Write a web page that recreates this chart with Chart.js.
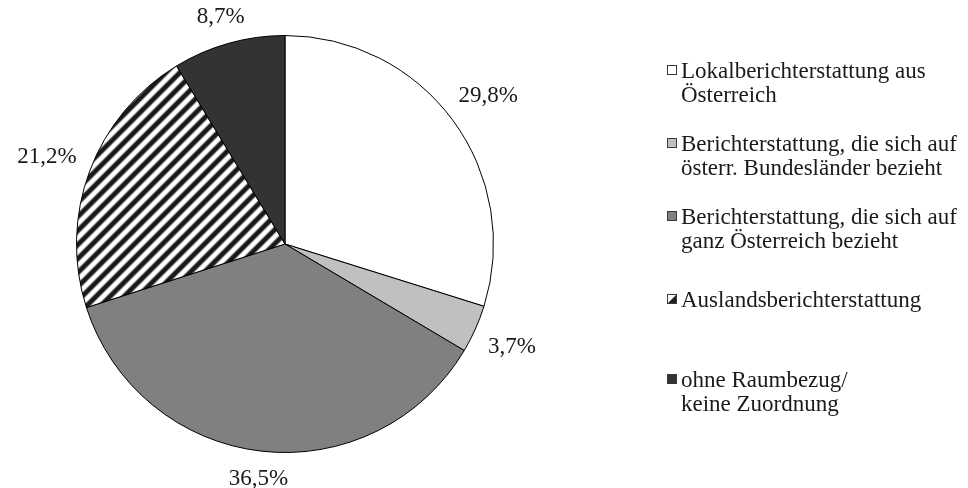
<!DOCTYPE html>
<html>
<head>
<meta charset="utf-8">
<script src="https://cdn.jsdelivr.net/npm/chart.js@4/dist/chart.umd.min.js"></script>
<style>
  body { margin: 0; background: #fff; }
  #wrap { width: 968px; height: 488px; }
</style>
</head>
<body>
<div id="wrap"><canvas id="pie" width="968" height="488"></canvas></div>
<script>
// categories (each entry is split into its legend lines)
const categories = [
    ['Lokalberichterstattung aus', 'Österreich'],
    ['Berichterstattung, die sich auf', 'österr. Bundesländer bezieht'],
    ['Berichterstattung, die sich auf', 'ganz Österreich bezieht'],
    ['Auslandsberichterstattung'],
    ['ohne Raumbezug/', 'keine Zuordnung']
];
const shares = [29.8, 3.7, 36.5, 21.2, 8.7];

const textFont = '23px "Liberation Serif", "Times New Roman", serif';
const textColor = '#1a1a1a';

// diagonal stripe tile for the foreign news slice
function stripeTile(p) {
    let tile = document.createElement('canvas');
    tile.width = p;
    tile.height = p;
    let tctx = tile.getContext('2d');
    let img = tctx.createImageData(p, p);
    for (let j = 0; j < p; j++) {
        for (let i = 0; i < p; i++) {
            let t = ((i + j + 0.5) % p) / p;
            let d = Math.min(1, Math.max(0, 0.5 + 0.85 * Math.cos(2 * Math.PI * t)));
            let g = Math.round(255 - d * (255 - 25));
            let k = (j * p + i) * 4;
            img.data[k] = g;
            img.data[k + 1] = g;
            img.data[k + 2] = g;
            img.data[k + 3] = 255;
        }
    }
    tctx.putImageData(img, 0, 0);
    return tile;
}

let canvas = document.getElementById('pie');
let hatch = canvas.getContext('2d').createPattern(stripeTile(14), 'repeat');

let fills = ['#ffffff', '#c0c0c0', '#808080', hatch, '#333333'];

// percentage labels just outside each slice
const outsideLabels = {
    id: 'outsideLabels',
    afterDatasetsDraw(chart) {
        let ctx = chart.ctx;
        let meta = chart.getDatasetMeta(0);
        ctx.save();
        ctx.font = textFont;
        ctx.fillStyle = textColor;
        ctx.textAlign = 'center';
        ctx.textBaseline = 'alphabetic';
        meta.data.forEach(function (arc, i) {
            let p = arc.getProps(['x', 'y', 'startAngle', 'endAngle', 'outerRadius'], true);
            let mid = (p.startAngle + p.endAngle) / 2;
            let dx = Math.cos(mid), dy = Math.sin(mid);
            let txt = shares[i].toFixed(1).replace('.', ',') + '%';
            let w = ctx.measureText(txt).width;
            let h = 16;
            let reach = p.outerRadius + 15 + Math.abs(dx) * w / 2 + Math.abs(dy) * h / 2;
            let cx = p.x + dx * reach;
            let cy = p.y + dy * reach;
            ctx.fillText(txt, cx, cy + 7.8);
        });
        ctx.restore();
    }
};

// legend at the right, one square marker per entry
const legendBaselines = [78, 151, 224, 307, 387];
const sideLegend = {
    id: 'sideLegend',
    afterDraw(chart) {
        let ctx = chart.ctx;
        ctx.save();
        ctx.font = textFont;
        ctx.fillStyle = textColor;
        ctx.textBaseline = 'alphabetic';
        categories.forEach(function (lines, i) {
            let base = legendBaselines[i];
            let bx = 667, by = base - 13, bs = 10;
            if (i === 3) {
                ctx.fillStyle = '#ffffff';
                ctx.fillRect(bx, by, bs, bs);
                ctx.fillStyle = '#222222';
                ctx.beginPath();
                ctx.moveTo(bx + bs, by);
                ctx.lineTo(bx + bs, by + bs);
                ctx.lineTo(bx, by + bs);
                ctx.closePath();
                ctx.fill();
            } else {
                ctx.fillStyle = fills[i];
                ctx.fillRect(bx, by, bs, bs);
            }
            ctx.strokeStyle = '#3a3a3a';
            ctx.lineWidth = 1;
            ctx.strokeRect(bx + 0.5, by + 0.5, bs - 1, bs - 1);
            ctx.fillStyle = textColor;
            lines.forEach(function (line, k) {
                ctx.fillText(line, 681, base + k * 23.5);
            });
        });
        ctx.restore();
    }
};

let chart = new Chart(canvas, {
    type: 'pie',
    data: {
        labels: categories.map(l => l.join(' ')),
        datasets: [{
            data: shares,
            backgroundColor: fills,
            borderColor: '#000000',
            borderWidth: 1
        }]
    },
    options: {
        responsive: false,
        animation: false,
        layout: {
            padding: { left: 76, right: 474, top: 35, bottom: 35 }
        },
        plugins: {
            legend: { display: false },
            tooltip: { enabled: false }
        }
    },
    plugins: [outsideLabels, sideLegend]
});
</script>
</body>
</html>
